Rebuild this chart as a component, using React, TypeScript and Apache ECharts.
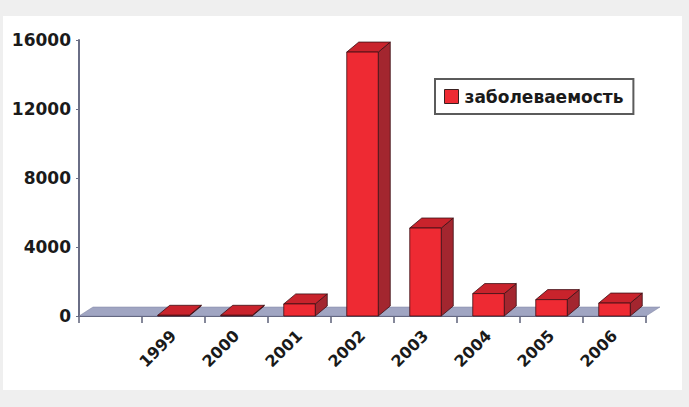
import React, { useEffect, useRef } from "react";
import * as echarts from "echarts";

// Years on the category axis; the first slot is an empty band before 1999
const categories: string[] = ["", "1999", "2000", "2001", "2002", "2003", "2004", "2005", "2006"];
// Incidence per year (null for the empty slot)
const incidence: (number | null)[] = [null, 40, 40, 700, 15300, 5100, 1300, 950, 750];
const yTicks = { min: 0, max: 16000, interval: 4000 };
const seriesName = "заболеваемость";

const FONT = "'DejaVu Sans', Verdana, sans-serif";
const DEPTH_X = 12;
const DEPTH_Y = 10;

export default function App() {
  const ref = useRef<HTMLDivElement>(null);

  useEffect(() => {
    document.body.style.margin = "0";
    if (!ref.current) return;
    const chart = echarts.init(ref.current, null, { renderer: "svg" });

    const barData = incidence
      .map((v, i) => (v == null ? null : [i, v]))
      .filter((d) => d !== null) as number[][];

    const option: any = {
      animation: false,
      backgroundColor: "#efefef",
      graphic: [
        {
          type: "rect",
          z: -10,
          silent: true,
          shape: { x: 3, y: 16, width: 679, height: 374 },
          style: { fill: "#ffffff" },
        },
      ],
      grid: { left: 79, right: 43, top: 40, bottom: 91 },
      legend: {
        left: 435,
        top: 79,
        orient: "horizontal",
        padding: [9, 10, 9, 9],
        borderColor: "#5b5b5b",
        borderWidth: 2,
        backgroundColor: "#ffffff",
        itemWidth: 14,
        itemHeight: 14,
        itemGap: 8,
        icon: "rect",
        itemStyle: { borderColor: "#3a2020", borderWidth: 1 },
        textStyle: { fontFamily: FONT, fontWeight: "bold", fontSize: 17, color: "#1a1a1a", padding: [0, 0, 0, 1] },
        data: [seriesName],
      },
      xAxis: {
        type: "category",
        data: categories,
        boundaryGap: true,
        axisLine: { lineStyle: { color: "#5c6078", width: 2 } },
        axisTick: { show: true, length: 7, lineStyle: { color: "#5c6078", width: 1.5 } },
        axisLabel: {
          rotate: 45,
          interval: 0,
          margin: 17,
          fontFamily: FONT,
          fontWeight: "bold",
          fontSize: 16,
          color: "#1a1a1a",
        },
        splitLine: { show: false },
      },
      yAxis: {
        type: "value",
        min: yTicks.min,
        max: yTicks.max,
        interval: yTicks.interval,
        axisLine: { show: true, lineStyle: { color: "#6a6e86", width: 2 } },
        axisTick: { show: true, length: 3, lineStyle: { color: "#6a6e86" } },
        axisLabel: {
          margin: 8,
          formatter: (v: number) => String(v),
          fontFamily: FONT,
          fontWeight: "bold",
          fontSize: 17,
          color: "#1a1a1a",
        },
        splitLine: { show: false },
      },
      series: [
        {
          // floor plane under the bars
          type: "custom",
          silent: true,
          z: 1,
          legendHoverLink: false,
          data: [[0, 0]],
          renderItem: (params: any, api: any) => {
            const band = api.size([1, 0])[0];
            const first = api.coord([0, 0]);
            const last = api.coord([categories.length - 1, 0]);
            const x0 = first[0] - band / 2;
            const x1 = last[0] + band / 2;
            const y = first[1];
            return {
              type: "polygon",
              shape: {
                points: [
                  [x0, y],
                  [x1, y],
                  [x1 + DEPTH_X + 2, y - DEPTH_Y + 1],
                  [x0 + DEPTH_X + 2, y - DEPTH_Y + 1],
                ],
              },
              style: { fill: "#a0a5c2", stroke: "#7d82a0", lineWidth: 0.5 },
            };
          },
        },
        {
          name: seriesName,
          type: "custom",
          z: 3,
          itemStyle: { color: "#ee2a33" },
          data: barData,
          renderItem: (params: any, api: any) => {
            const idx = api.value(0);
            const val = api.value(1);
            const base = api.coord([idx, 0]);
            const top = api.coord([idx, val]);
            const w = api.size([1, 0])[0] * 0.5;
            const xl = base[0] - w / 2;
            const xr = base[0] + w / 2;
            const yb = base[1];
            const yt = top[1];
            const stroke = "#3b1015";
            return {
              type: "group",
              children: [
                {
                  type: "polygon",
                  shape: { points: [[xr, yb], [xr + DEPTH_X, yb - DEPTH_Y], [xr + DEPTH_X, yt - DEPTH_Y], [xr, yt]] },
                  style: { fill: "#a3262f", stroke, lineWidth: 0.8 },
                },
                {
                  type: "polygon",
                  shape: { points: [[xl, yt], [xr, yt], [xr + DEPTH_X, yt - DEPTH_Y], [xl + DEPTH_X, yt - DEPTH_Y]] },
                  style: { fill: "#c9232c", stroke, lineWidth: 0.8 },
                },
                {
                  type: "rect",
                  shape: { x: xl, y: yt, width: w, height: Math.max(yb - yt, 0) },
                  style: { fill: "#ee2a33", stroke, lineWidth: 0.8 },
                },
              ],
            };
          },
        },
      ],
    };

    chart.setOption(option);
    return () => chart.dispose();
  }, []);

  return <div ref={ref} style={{ width: 689, height: 407 }} />;
}
